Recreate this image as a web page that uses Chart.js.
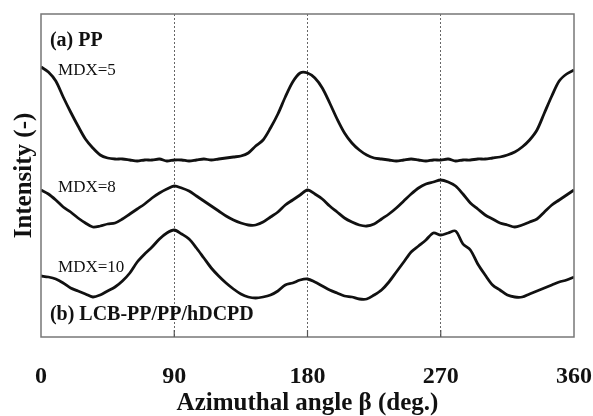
<!DOCTYPE html>
<html lang="en">
<head>
<meta charset="UTF-8">
<title>Azimuthal intensity profiles</title>
<script src="https://cdn.jsdelivr.net/npm/chart.js"></script>
<style>
  body { margin: 0; background: #fff; }
  #wrap { width: 593px; height: 416px; }
</style>
</head>
<body>
<div id="wrap"><canvas id="chart" width="593" height="416"></canvas></div>
<script>
// azimuthal angle (deg)
const angles = [0,5,10,15,20,25,30,35,40,45,50,55,60,65,70,75,80,85,90,95,100,105,110,115,120,125,130,135,140,145,150,155,160,165,170,175,180,185,190,195,200,205,210,215,220,225,230,235,240,245,250,255,260,265,270,275,280,285,290,295,300,305,310,315,320,325,330,335,340,345,350,355,360];

// intensity, arbitrary units (curves are shifted vertically in the figure)
const mdx5 = [270,265,256,240,225,211,198,189,182,179,178,178,177,176,177,177,178,176,177,177,176,177,178,177,178,179,180,181,184,191,197,209,223,240,255,264,264,259,249,234,218,204,194,187,182,179,178,177,176,177,178,177,176,177,177,178,176,177,177,178,178,179,180,182,185,190,197,207,224,241,256,263,267];
const mdx8 = [147,143,137,130,125,119,114,110,111,113,114,118,123,128,133,139,144,148,151,149,146,141,136,131,126,121,117,114,112,112,115,120,125,132,137,142,147,143,138,131,125,119,115,112,111,113,118,123,129,136,143,149,153,155,157,155,151,143,134,128,122,118,114,112,110,112,115,118,125,132,137,142,147];
const mdx10 = [61,60,58,54,49,46,43,40,42,46,50,56,64,75,83,90,98,104,107,103,98,89,79,69,61,54,48,43,40,39,40,42,46,52,54,57,58,55,51,47,44,41,40,38,38,42,47,55,65,75,85,91,97,104,102,104,106,93,87,73,62,52,47,42,40,40,43,46,49,52,55,57,60];

const xTicks = [0, 90, 180, 270, 360];

// text labels inside the plot: [text, angle, intensity, bold, size]
const notes = [
  ['(a) PP', 6, 291, true, 20],
  ['MDX=5', 11.5, 262, false, 17],
  ['MDX=8', 11.5, 145, false, 17],
  ['MDX=10', 11.5, 65, false, 17],
  ['(b) LCB-PP/PP/hDCPD', 6, 17, true, 20]
];

const serif = '"Liberation Serif", "DejaVu Serif", serif';

function toPoints(vals) {
  return vals.map((v, i) => ({ x: angles[i], y: v }));
}

// frame + small inward tick marks
const framePlugin = {
  id: 'frame',
  afterDraw(chart) {
    const { ctx, chartArea: a, scales } = chart;
    ctx.save();
    ctx.strokeStyle = '#777';
    ctx.lineWidth = 1.5;
    ctx.strokeRect(a.left, a.top, a.right - a.left, a.bottom - a.top);
    ctx.lineWidth = 1.2;
    ctx.strokeStyle = '#555';
    xTicks.slice(1, -1).forEach(t => {
      const x = scales.x.getPixelForValue(t);
      ctx.beginPath();
      ctx.moveTo(x, a.bottom);
      ctx.lineTo(x, a.bottom - 7);
      ctx.stroke();
    });
    ctx.restore();
  }
};

const notesPlugin = {
  id: 'notes',
  afterDatasetsDraw(chart) {
    const { ctx, scales } = chart;
    ctx.save();
    ctx.fillStyle = '#111';
    ctx.textBaseline = 'alphabetic';
    notes.forEach(n => {
      ctx.font = (n[3] ? 'bold ' : '') + n[4] + 'px ' + serif;
      ctx.fillText(n[0], scales.x.getPixelForValue(n[1]), scales.y.getPixelForValue(n[2]));
    });
    ctx.restore();
  }
};

function series(vals) {
  return {
    data: toPoints(vals),
    borderColor: '#111',
    borderWidth: 2.8,
    pointRadius: 0,
    tension: 0.3,
    fill: false
  };
}

new Chart(document.getElementById('chart'), {
  type: 'line',
  data: { datasets: [series(mdx5), series(mdx8), series(mdx10)] },
  options: {
    responsive: false,
    animation: false,
    devicePixelRatio: 1,
    layout: { padding: { top: 14, right: 19, left: 0, bottom: 0 } },
    plugins: { legend: { display: false }, tooltip: { enabled: false } },
    scales: {
      x: {
        type: 'linear',
        min: 0,
        max: 360,
        afterBuildTicks: s => { s.ticks = xTicks.map(v => ({ value: v })); },
        afterFit: s => { s.height = 79; s.paddingLeft = 0; s.paddingRight = 0; },
        ticks: {
          color: '#111',
          padding: 25,
          maxRotation: 0,
          font: { family: serif, size: 24, weight: 'bold' }
        },
        grid: {
          drawTicks: false,
          lineWidth: 1,
          color: c => (c.tick && (c.tick.value === 0 || c.tick.value === 360)) ? 'rgba(0,0,0,0)' : '#666'
        },
        border: { display: false, dash: [2, 2] },
        title: {
          display: true,
          text: 'Azimuthal angle β (deg.)',
          color: '#111',
          padding: { top: 0, bottom: 0 },
          font: { family: serif, size: 25, weight: 'bold', lineHeight: 1 }
        }
      },
      y: {
        min: 0,
        max: 323,
        afterFit: s => { s.width = 41; },
        ticks: { display: false },
        grid: { display: false },
        border: { display: false },
        title: {
          display: true,
          text: 'Intensity (-)',
          color: '#111',
          padding: { top: 10, bottom: 0 },
          font: { family: serif, size: 25, weight: 'bold' }
        }
      }
    }
  },
  plugins: [framePlugin, notesPlugin]
});
</script>
</body>
</html>
